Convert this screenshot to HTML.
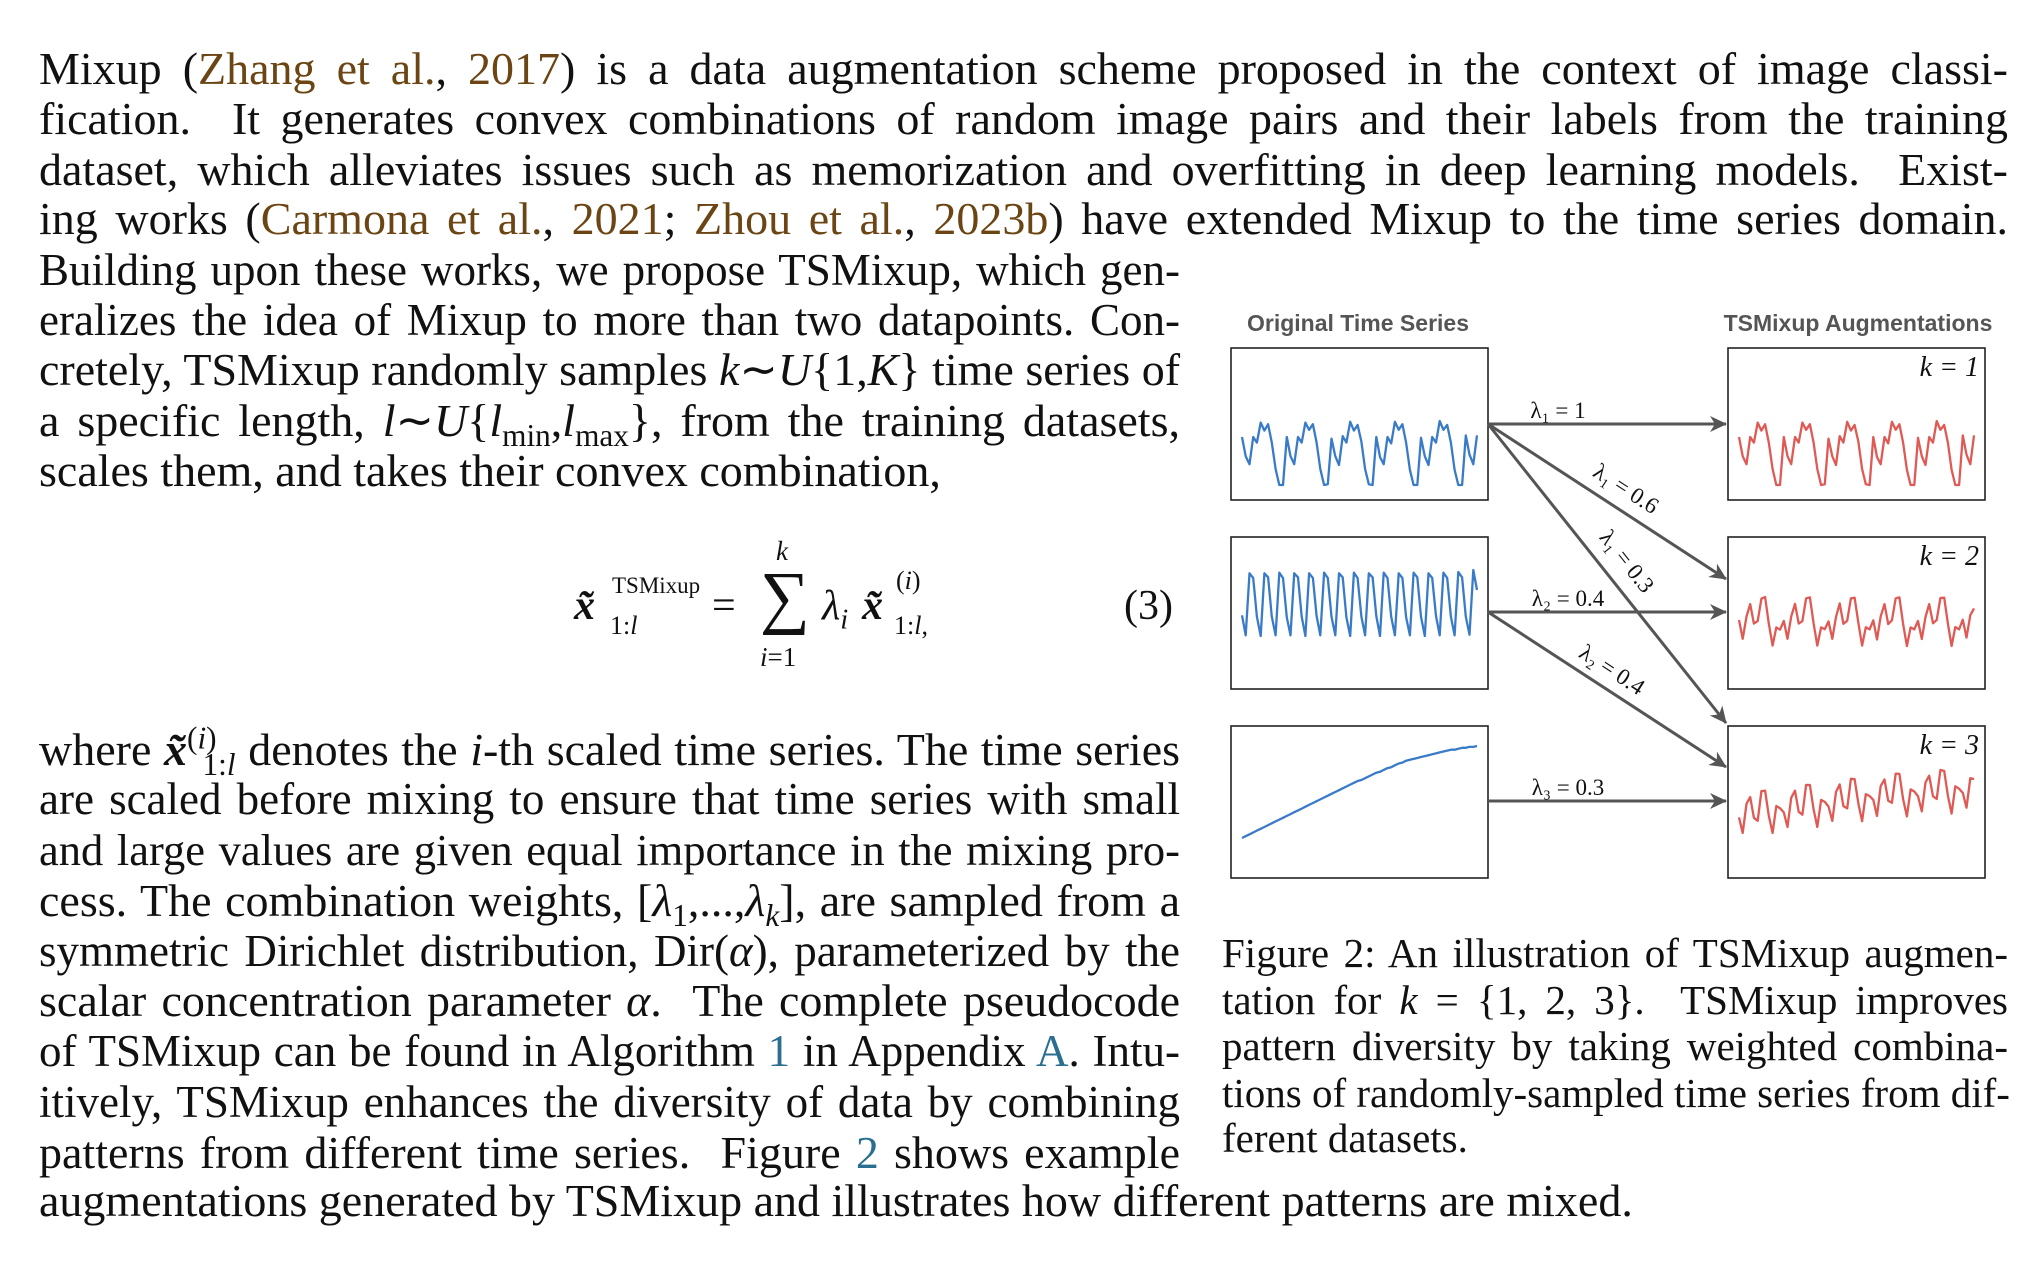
<!DOCTYPE html>
<html><head><meta charset="utf-8">
<style>
html,body{margin:0;padding:0;background:#fff;}
body{width:2034px;height:1270px;position:relative;overflow:hidden;font-family:"Liberation Serif",serif;color:#111;}
.ln{position:absolute;left:39px;height:50px;line-height:50px;font-size:46px;white-space:nowrap;text-align:justify;text-align-last:justify;}
.full{width:1969px;}
.nar{width:1141px;}
.last{text-align-last:left;}
.cap{position:absolute;left:1222px;width:786px;height:46px;line-height:46px;font-size:41px;white-space:nowrap;text-align:justify;text-align-last:justify;}
.cit{color:#6b4513;}
.lnk{color:#2a6f8f;}
i{font-style:italic;}
sub,sup{font-size:0.68em;line-height:0;}
.eq{position:absolute;font-size:42px;white-space:nowrap;}
</style></head><body>
<div>
<div class="ln full" style="top:44px">Mixup (<span class="cit">Zhang et al.</span>, <span class="cit">2017</span>) is a data augmentation scheme proposed in the context of image classi-</div>
<div class="ln full" style="top:94px">fication.&nbsp; It generates convex combinations of random image pairs and their labels from the training</div>
<div class="ln full" style="top:145px">dataset, which alleviates issues such as memorization and overfitting in deep learning models.&nbsp; Exist-</div>
<div class="ln full" style="top:194px">ing works (<span class="cit">Carmona et al.</span>, <span class="cit">2021</span>; <span class="cit">Zhou et al.</span>, <span class="cit">2023b</span>) have extended Mixup to the time series domain.</div>
<div class="ln nar" style="top:245px;font-size:45px">Building upon these works, we propose TSMixup, which gen-</div>
<div class="ln nar" style="top:295px;font-size:45px">eralizes the idea of Mixup to more than two datapoints. Con-</div>
<div class="ln nar" style="top:345px">cretely, TSMixup randomly samples <i>k</i>∼<i>U</i>{1,<i>K</i>} time series of</div>
<div class="ln nar" style="top:396px">a specific length, <i>l</i>∼<i>U</i>{<i>l</i><sub>min</sub>,<i>l</i><sub>max</sub>}, from the training datasets,</div>
<div class="ln nar last" style="top:446px">scales them, and takes their convex combination,</div>
</div>

<div>
<div class="eq" style="left:574px;top:582px;font-weight:bold;font-style:italic;">x̃</div>
<div class="eq" style="left:612px;top:573px;font-size:23px;">TSMixup</div>
<div class="eq" style="left:610px;top:611px;font-size:26px;">1:<i>l</i></div>
<div class="eq" style="left:712px;top:582px;">=</div>
<div class="eq" style="left:648px;top:536px;font-size:27px;width:140px;text-align:right;"><i>k</i></div>
<div class="eq" style="left:760px;top:558px;font-size:70px;">∑</div>
<div class="eq" style="left:760px;top:642px;font-size:27px;"><i>i</i>=1</div>
<div class="eq" style="left:822px;top:582px;"><i>λ</i><sub><i>i</i></sub></div>
<div class="eq" style="left:862px;top:582px;font-weight:bold;font-style:italic;">x̃</div>
<div class="eq" style="left:896px;top:566px;font-size:26px;">(<i>i</i>)</div>
<div class="eq" style="left:894px;top:611px;font-size:26px;">1:<i>l</i>,</div>
<div class="eq" style="left:1124px;top:582px;">(3)</div>
</div>

<div>
<div class="ln nar" style="top:725px">where <b><i>x̃</i></b><sup>(<i>i</i>)</sup><sub style="margin-left:-14px">1:<i>l</i></sub> denotes the <i>i</i>-th scaled time series. The time series</div>
<div class="ln nar" style="top:774px;font-size:45px">are scaled before mixing to ensure that time series with small</div>
<div class="ln nar" style="top:825px;font-size:44.5px">and large values are given equal importance in the mixing pro-</div>
<div class="ln nar" style="top:876px">cess. The combination weights, [<i>λ</i><sub>1</sub>,...,<i>λ</i><sub><i>k</i></sub>], are sampled from a</div>
<div class="ln nar" style="top:926px;font-size:45px">symmetric Dirichlet distribution, Dir(<i>α</i>), parameterized by the</div>
<div class="ln nar" style="top:976px">scalar concentration parameter <i>α</i>.&nbsp; The complete pseudocode</div>
<div class="ln nar" style="top:1026px;font-size:45px">of TSMixup can be found in Algorithm <span class="lnk">1</span> in Appendix <span class="lnk">A</span>. Intu-</div>
<div class="ln nar" style="top:1077px;font-size:45px">itively, TSMixup enhances the diversity of data by combining</div>
<div class="ln nar" style="top:1128px">patterns from different time series.&nbsp; Figure <span class="lnk">2</span> shows example</div>
<div class="ln last" style="top:1176px;width:1969px">augmentations generated by TSMixup and illustrates how different patterns are mixed.</div>
</div>

<div>
<div class="cap" style="top:930px">Figure 2: An illustration of TSMixup augmen-</div>
<div class="cap" style="top:977px">tation for <i>k</i> = {1, 2, 3}.&nbsp; TSMixup improves</div>
<div class="cap" style="top:1023px">pattern diversity by taking weighted combina-</div>
<div class="cap" style="top:1070px">tions of randomly-sampled time series from dif-</div>
<div class="cap" style="top:1115px;text-align-last:left">ferent datasets.</div>
</div>

<svg id="fig" width="2034" height="1270" style="position:absolute;left:0;top:0" xmlns="http://www.w3.org/2000/svg">
<defs>
<marker id="ah2" markerWidth="18" markerHeight="18" refX="16" refY="9" orient="auto" markerUnits="userSpaceOnUse"><path d="M0,1 L17,9 L0,17 L5,9 z" fill="#555"/></marker></defs>
<text x="1358" y="331" text-anchor="middle" font-family="Liberation Sans, sans-serif" font-weight="bold" font-size="23" fill="#555">Original Time Series</text>
<text x="1858" y="331" text-anchor="middle" font-family="Liberation Sans, sans-serif" font-weight="bold" font-size="23" fill="#555">TSMixup Augmentations</text>
<g id="boxes"></g>
<g id="arrows"></g>
<g id="series"></g>
</svg>

<script>
// Original series values (normalized 0..1)
const series1 = [0.62,0.38,0.28,0.62,0.55,0.80,0.70,0.78,0.55,0.22,0.02,0.02,0.62,0.38,0.28,0.62,0.55,0.80,0.71,0.78,0.55,0.22,0.02,0.03,0.60,0.38,0.27,0.63,0.55,0.81,0.70,0.77,0.56,0.22,0.03,0.02,0.62,0.37,0.28,0.62,0.54,0.81,0.71,0.78,0.55,0.21,0.02,0.02,0.61,0.38,0.27,0.62,0.55,0.82,0.71,0.77,0.55,0.21,0.02,0.02,0.64,0.40,0.28,0.64];
const series2 = [0.32,0.02,0.95,0.88,0.30,0.01,0.95,0.89,0.30,0.02,0.96,0.88,0.29,0.02,0.95,0.89,0.30,0.01,0.95,0.88,0.31,0.02,0.96,0.88,0.30,0.02,0.95,0.89,0.29,0.01,0.96,0.88,0.30,0.02,0.95,0.89,0.31,0.01,0.96,0.88,0.30,0.02,0.95,0.88,0.29,0.02,0.96,0.89,0.30,0.01,0.95,0.88,0.31,0.02,0.96,0.88,0.30,0.02,0.97,0.89,0.30,0.03,1.00,0.70];
const series3 = [0.00,0.02,0.04,0.06,0.08,0.10,0.12,0.14,0.16,0.18,0.20,0.22,0.24,0.26,0.28,0.30,0.32,0.34,0.36,0.38,0.40,0.42,0.44,0.46,0.48,0.50,0.52,0.54,0.56,0.58,0.60,0.62,0.63,0.65,0.67,0.69,0.71,0.72,0.74,0.76,0.77,0.79,0.81,0.82,0.84,0.85,0.86,0.87,0.88,0.89,0.90,0.91,0.92,0.93,0.94,0.95,0.96,0.96,0.97,0.98,0.98,0.99,0.99,1.00];
const weightsK2 = [0.6,0.4,0];
const weightsK3 = [0.3,0.4,0.3];
const arrowLabels = ["λ₁ = 1","λ₁ = 0.6","λ₁ = 0.3","λ₂ = 0.4","λ₂ = 0.4","λ₃ = 0.3"];
const kLabels = ["k = 1","k = 2","k = 3"];

const NS="http://www.w3.org/2000/svg";
function mk(tag,attrs,parent){const e=document.createElementNS(NS,tag);for(const k in attrs)e.setAttribute(k,attrs[k]);parent.appendChild(e);return e;}
const leftX=1231, rightX=1728, boxW=257, boxH=152;
const boxTops=[348,537,726];
const boxesG=document.getElementById('boxes'), seriesG=document.getElementById('series'), arrowsG=document.getElementById('arrows');
for(let c=0;c<2;c++){for(let r=0;r<3;r++){
  const b=mk('rect',{x:c?rightX:leftX,y:boxTops[r],width:boxW,height:boxH,fill:'#fff',stroke:'#222','stroke-width':1.6},boxesG);
  
  
}}
function mix(w){return series1.map((v,i)=>w[0]*v+w[1]*series2[i]+w[2]*series3[i]);}
function plot(vals,x0,top,bot,color,name){
  const mn=Math.min(...vals), mx=Math.max(...vals);
  const xs=i=>x0+11+i*(235/(vals.length-1));
  const ys=v=>bot-(v-mn)/(mx-mn||1)*(bot-top);
  const d=vals.map((v,i)=>(i?'L':'M')+xs(i).toFixed(1)+','+ys(v).toFixed(1)).join(' ');
  const p=mk('path',{d:d,fill:'none',stroke:color,'stroke-width':2.3,'stroke-linejoin':'round'},seriesG);
  
  
}
const blue='#3a7bc8', red='#e05a55';
plot(series1,leftX,421,485,blue,'original-series-1');
plot(series2,leftX,570,636,blue,'original-series-2');
plot(series3,leftX,746,838,blue,'original-series-3');
plot(series1,rightX,421,485,red,'augmented-series-k1');
plot(mix(weightsK2),rightX,597,646,red,'augmented-series-k2');
plot(mix(weightsK3),rightX,770,833,red,'augmented-series-k3');
kLabels.forEach((t,i)=>{
  const e=mk('text',{x:rightX+boxW-6,y:boxTops[i]+28,'text-anchor':'end','font-family':'Liberation Serif, serif','font-size':28,'font-style':'italic',fill:'#111'},boxesG);
  e.textContent=t;
  
  
});
const sx=1488, ex=1728;
const arrows=[[424,424],[424,579],[424,723],[612,612],[612,767],[801,801]];
const lblPos=[[1558,418,0],[1622,495,32.8],[1621,566,51.5],[1568,606,0],[1608,676,33],[1568,795,0]];
arrows.forEach((a,i)=>{
  const l=mk('line',{x1:sx,y1:a[0],x2:ex-2,y2:a[1],stroke:'#555','stroke-width':3,'marker-end':'url(#ah2)'},arrowsG);
  
  
  const p=lblPos[i];
  const t=mk('text',{x:p[0],y:p[1],'text-anchor':'middle','font-family':'Liberation Serif, serif','font-size':23,fill:'#111',transform:'rotate('+p[2]+' '+p[0]+' '+p[1]+')'},arrowsG);
  t.textContent=arrowLabels[i];
  
  
});
</script>
</body></html>
